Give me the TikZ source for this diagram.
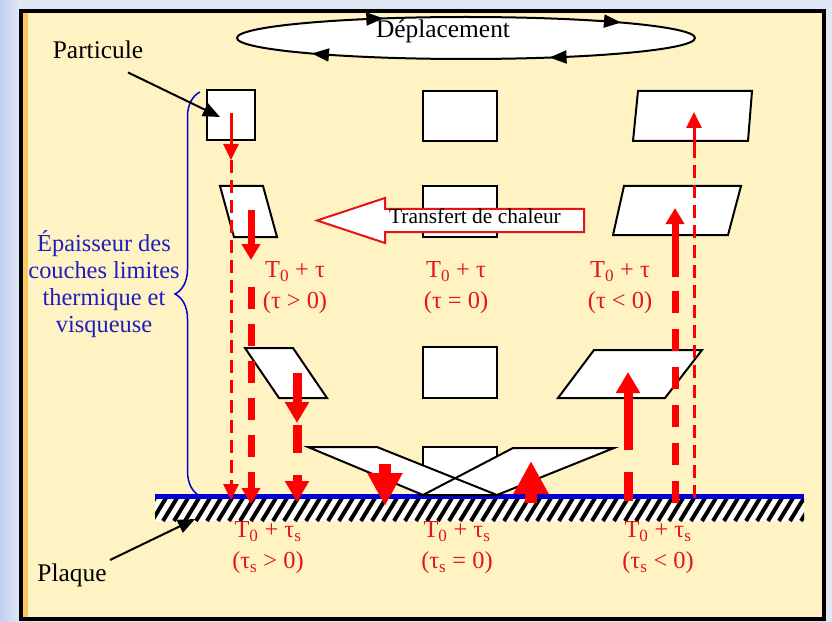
\documentclass[tikz,border=0pt]{standalone}
\usepackage{fontspec}
\setmainfont{Liberation Serif}
\usetikzlibrary{arrows.meta,decorations.pathreplacing,decorations.markings}

\definecolor{fondcadre}{RGB}{255,243,196}
\definecolor{fondbleu}{RGB}{224,232,246}
\definecolor{bordbleu}{RGB}{192,208,238}
\definecolor{liseret}{RGB}{250,198,96}
\definecolor{rougefleche}{RGB}{255,0,0}
\definecolor{rougetexte}{RGB}{230,20,20}
\definecolor{bleutexte}{RGB}{30,30,190}
\definecolor{bleuparoi}{RGB}{0,0,215}

\begin{document}
\begin{tikzpicture}[x=1bp, y=-1bp,
		particule/.style={draw=black, line width=2bp, fill=white},
		texte noir/.style={text=black, font=\fontsize{25.5}{30}\selectfont},
		etiquette/.style={text=rougetexte, align=center, font=\fontsize{24.5}{31}\selectfont},
		pointeur/.style={draw=black, line width=2bp, -{Triangle[width=14bp,length=17bp]}},
		fleche fine/.style={draw=rougefleche, line width=3bp, -{Triangle[width=15bp,length=16bp]}},
		fleche moyenne/.style={draw=rougefleche, line width=7bp, -{Triangle[width=18bp,length=16bp]}},
		fleche forte/.style={draw=rougefleche, line width=9bp, -{Triangle[width=23bp,length=21bp]}},
		fleche enorme/.style={draw=rougefleche, line width=12bp, -{Triangle[width=33bp,length=33bp]}}]
	\useasboundingbox (0,0) rectangle (832,622);
	% fond et cadre
	\fill[fondbleu] (0,0) rectangle (832,622);
	\shade[left color=bordbleu, right color=fondbleu] (0,0) rectangle (19,622);
	\draw[line width=4bp, fill=fondcadre] (20.5,11) rectangle (823.5,618.5);
	\fill[liseret] (22.5,13) rectangle (28,616.5);

	% deplacement
	\draw[line width=2bp, fill=white, postaction={decorate},
		decoration={markings,
			mark=at position 0.083 with {\arrowreversed{Triangle[width=13bp,length=17bp]}},
			mark=at position 0.339 with {\arrowreversed{Triangle[width=13bp,length=17bp]}},
			mark=at position 0.584 with {\arrowreversed{Triangle[width=13bp,length=17bp]}},
			mark=at position 0.840 with {\arrowreversed{Triangle[width=13bp,length=17bp]}}}]
		(466,38) ellipse [x radius=229bp, y radius=21bp];
	\node[texte noir] (deplacement) at (443,31) {Déplacement};

	% plaque
	\begin{scope}
		\clip (155,498) rectangle (804,521);
		\fill[white] (155,498) rectangle (804,521);
		\foreach \x in {141,152,...,815}
			\draw[line width=4bp] (\x,521) -- (\x+14,498);
	\end{scope}
	\draw[bleuparoi, line width=5bp] (155,496) -- (804,496);

	% couche limite
	\draw[bleuparoi, line width=1.5bp, decorate, decoration={brace, amplitude=25bp}] (200,496) -- (200,92);
	\node[text=bleutexte, align=center, font=\fontsize{24.5}{27.3}\selectfont] (epaisseur) at (104,284)
		{Épaisseur des\\couches limites\\thermique et\\visqueuse};

	% particules, tau > 0
	\draw[particule] (207,90) rectangle (255,140);
	\draw[particule] (220,186) -- (263,186) -- (277,237) -- (234,237) -- cycle;
	\draw[particule] (245,348) -- (293,348) -- (327,398) -- (279,398) -- cycle;
	% particules, tau = 0
	\draw[particule] (423,91) rectangle (497,141);
	\draw[particule] (423,186) rectangle (497,237);
	\draw[particule] (423,347) rectangle (497,398);
	\draw[particule] (423,447) rectangle (497,495);
	% particules, tau < 0
	\draw[particule] (638,91) -- (752,91) -- (748,141) -- (633,141) -- cycle;
	\draw[particule] (624,186) -- (741,186) -- (728,235) -- (613,235) -- cycle;
	\draw[particule] (594,350) -- (702,350) -- (665,398) -- (558,398) -- cycle;
	% pres de la paroi
	\fill[white] (308,447) -- (377,447) -- (497,495) -- (423,495) -- cycle;
	\fill[white] (513,448) -- (614,448) -- (497,495) -- (423,495) -- cycle;
	\draw[particule, fill=none] (308,447) -- (377,447) -- (497,495) -- (423,495) -- cycle;
	\draw[particule, fill=none] (513,448) -- (614,448) -- (497,495) -- (423,495) -- cycle;

	% transfert de chaleur
	\draw[rougetexte, line width=2bp, fill=white] (584,209) -- (385,209) -- (385,198) -- (317,220.5)
		-- (385,243) -- (385,232) -- (584,232) -- cycle;
	\node[text=black, font=\fontsize{21.5}{25}\selectfont] (transfert) at (475,216) {Transfert de chaleur};

	% fleches tau > 0
	\draw[fleche fine] (231,113) -- (231,160);
	\draw[fleche fine, dash pattern=on 13bp off 7bp] (231,160) -- (231,500);
	\draw[fleche moyenne] (251,210) -- (251,260);
	\draw[fleche moyenne, dash pattern=on 22bp off 15bp] (251,287) -- (251,504);
	\draw[fleche forte] (297,373) -- (297,423);
	\draw[fleche forte, dash pattern=on 28bp off 22bp] (297,425) -- (297,502);
	\draw[fleche enorme] (385,464) -- (385,506);
	% fleches tau < 0
	\draw[fleche enorme] (531,503) -- (531,461);
	\draw[fleche forte, -, dash pattern=on 29bp off 22bp] (628,501) -- (628,450);
	\draw[fleche forte] (628,450) -- (628,372);
	\draw[fleche moyenne, -, dash pattern=on 22bp off 16bp] (675,503) -- (675,291);
	\draw[fleche moyenne] (675,277) -- (675,208);
	\draw[fleche fine, -, dash pattern=on 13bp off 7bp] (694,498) -- (694,158);
	\draw[fleche fine] (694,158) -- (694,112);

	% temperatures
	\node[etiquette] (fluide gauche) at (295,288) {T\textsubscript{0} + τ\\(τ > 0)};
	\node[etiquette] (fluide milieu) at (456,288) {T\textsubscript{0} + τ\\(τ = 0)};
	\node[etiquette] (fluide droite) at (620,288) {T\textsubscript{0} + τ\\(τ < 0)};
	\node[etiquette] (paroi gauche) at (268,548) {T\textsubscript{0} + τ\textsubscript{s}\\(τ\textsubscript{s} > 0)};
	\node[etiquette] (paroi milieu) at (457,548) {T\textsubscript{0} + τ\textsubscript{s}\\(τ\textsubscript{s} = 0)};
	\node[etiquette] (paroi droite) at (658,548) {T\textsubscript{0} + τ\textsubscript{s}\\(τ\textsubscript{s} < 0)};

	% legendes
	\node[texte noir] (particule) at (98,50) {Particule};
	\coordinate (carre) at (220,117);
	\draw[pointeur] ([shift={(30,10)}]particule.south) -- (carre);
	\node[texte noir] (plaque) at (72,575) {Plaque};
	\coordinate (hachures) at (195,519);
	\draw[pointeur] (plaque.north east) -- (hachures);
\end{tikzpicture}
\end{document}
